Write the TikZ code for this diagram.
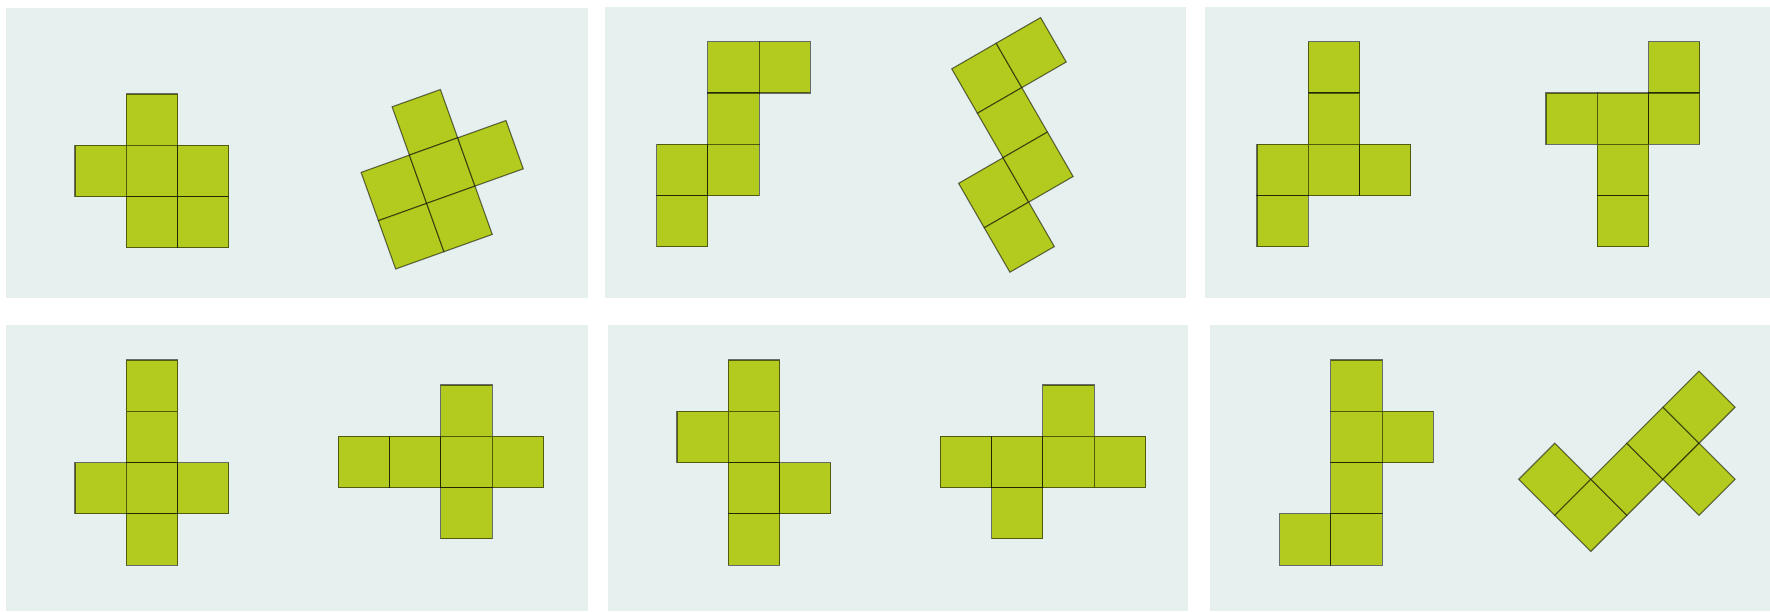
\documentclass[tikz,border=0pt]{standalone}
\usetikzlibrary{positioning}
\definecolor{PanelBg}{RGB}{230,240,239}
\definecolor{FaceGreen}{RGB}{179,203,31}

\begin{document}
\begin{tikzpicture}[x=1pt, y=-1pt,
  panel/.style={fill=PanelBg},
  face/.style={fill=FaceGreen, draw=black, draw opacity=0.55, line width=1.1pt, line join=miter}]
  \useasboundingbox (0,0) rectangle (1770,611);

  % Panels
  \foreach \xa/\ya/\xb/\yb in {6/8/588/298, 605/7/1186/298, 1205/7/1770/298,
                               6/325/588/611, 608/325/1188/611, 1210/325/1770/611}
    \fill[panel] (\xa,\ya) rectangle (\xb,\yb);

  % Top row, first panel
  \begin{scope}[shift={(75,94)}, x=51.3pt, y=-51.3pt]
    \foreach \c/\r in {1/0, 0/1, 1/1, 2/1, 1/2, 2/2}
      \draw[face] (\c,\r) -- ++(1,0) -- ++(0,1) -- ++(-1,0) -- cycle;
  \end{scope}
  \begin{scope}[shift={(343.8,124.1)}, rotate=19.7, x=51.3pt, y=-51.3pt]
    \foreach \c/\r in {1/0, 0/1, 1/1, 2/1, 0/2, 1/2}
      \draw[face] (\c,\r) -- ++(1,0) -- ++(0,1) -- ++(-1,0) -- cycle;
  \end{scope}

  % Top row, second panel
  \begin{scope}[shift={(656.5,41.7)}, x=51.3pt, y=-51.3pt]
    \foreach \c/\r in {1/0, 2/0, 1/1, 0/2, 1/2, 0/3}
      \draw[face] (\c,\r) -- ++(1,0) -- ++(0,1) -- ++(-1,0) -- cycle;
  \end{scope}
  \begin{scope}[shift={(907.3,94.5)}, rotate=30, x=51.3pt, y=-51.3pt]
    \foreach \c/\r in {1/0, 2/0, 1/1, 0/2, 1/2, 0/3}
      \draw[face] (\c,\r) -- ++(1,0) -- ++(0,1) -- ++(-1,0) -- cycle;
  \end{scope}

  % Top row, third panel
  \begin{scope}[shift={(1257,41.7)}, x=51.3pt, y=-51.3pt]
    \foreach \c/\r in {1/0, 1/1, 0/2, 1/2, 2/2, 0/3}
      \draw[face] (\c,\r) -- ++(1,0) -- ++(0,1) -- ++(-1,0) -- cycle;
  \end{scope}
  \begin{scope}[shift={(1546,41.7)}, x=51.3pt, y=-51.3pt]
    \foreach \c/\r in {2/0, 0/1, 1/1, 2/1, 1/2, 1/3}
      \draw[face] (\c,\r) -- ++(1,0) -- ++(0,1) -- ++(-1,0) -- cycle;
  \end{scope}

  % Bottom row, first panel
  \begin{scope}[shift={(75,360)}, x=51.3pt, y=-51.3pt]
    \foreach \c/\r in {1/0, 1/1, 0/2, 1/2, 2/2, 1/3}
      \draw[face] (\c,\r) -- ++(1,0) -- ++(0,1) -- ++(-1,0) -- cycle;
  \end{scope}
  \begin{scope}[shift={(338.3,385)}, x=51.3pt, y=-51.3pt]
    \foreach \c/\r in {2/0, 0/1, 1/1, 2/1, 3/1, 2/2}
      \draw[face] (\c,\r) -- ++(1,0) -- ++(0,1) -- ++(-1,0) -- cycle;
  \end{scope}

  % Bottom row, second panel
  \begin{scope}[shift={(677,360)}, x=51.3pt, y=-51.3pt]
    \foreach \c/\r in {1/0, 0/1, 1/1, 1/2, 2/2, 1/3}
      \draw[face] (\c,\r) -- ++(1,0) -- ++(0,1) -- ++(-1,0) -- cycle;
  \end{scope}
  \begin{scope}[shift={(940.3,385)}, x=51.3pt, y=-51.3pt]
    \foreach \c/\r in {2/0, 0/1, 1/1, 2/1, 3/1, 1/2}
      \draw[face] (\c,\r) -- ++(1,0) -- ++(0,1) -- ++(-1,0) -- cycle;
  \end{scope}

  % Bottom row, third panel
  \begin{scope}[shift={(1279.5,360)}, x=51.3pt, y=-51.3pt]
    \foreach \c/\r in {1/0, 1/1, 2/1, 1/2, 0/3, 1/3}
      \draw[face] (\c,\r) -- ++(1,0) -- ++(0,1) -- ++(-1,0) -- cycle;
  \end{scope}
  \begin{scope}[shift={(1518.7,479.3)}, rotate=45, x=51pt, y=-51pt]
    \foreach \c/\r in {0/0, 0/1, 1/1, 2/1, 3/1, 2/2}
      \draw[face] (\c,\r) -- ++(1,0) -- ++(0,1) -- ++(-1,0) -- cycle;
  \end{scope}
\end{tikzpicture}
\end{document}
